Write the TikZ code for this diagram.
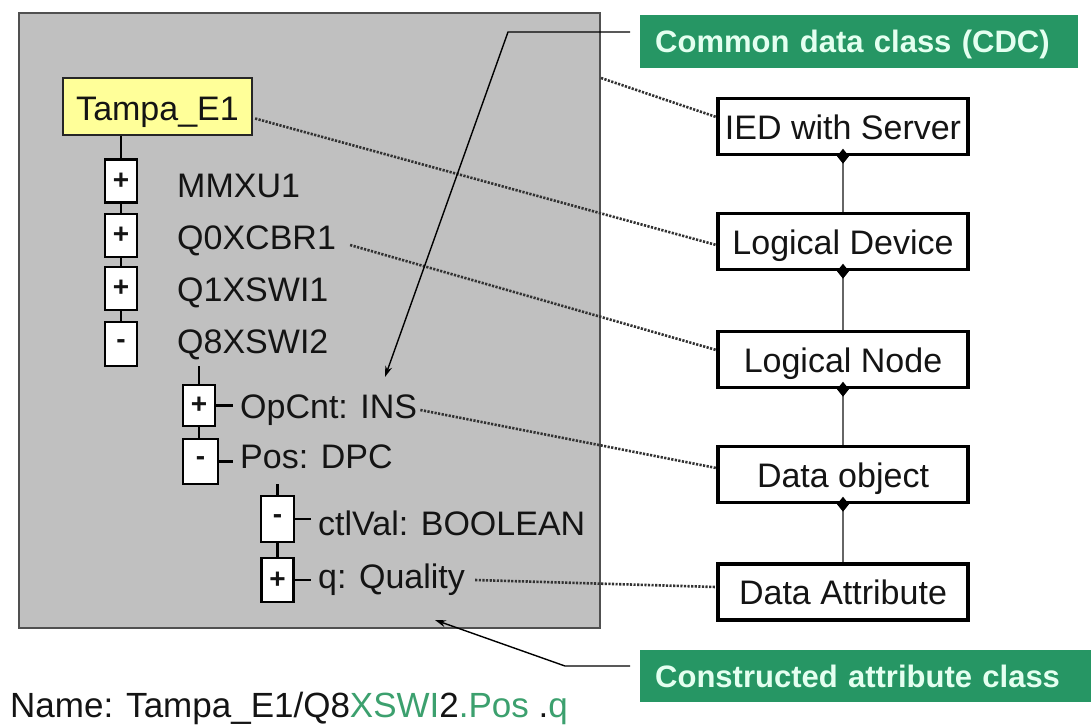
\documentclass[tikz,border=0pt]{standalone}
\usepackage{fontspec}
\setmainfont{Liberation Sans}
\usetikzlibrary{arrows.meta,calc}
\definecolor{panelgray}{RGB}{192,192,192}
\definecolor{paneledge}{RGB}{80,80,80}
\definecolor{tagyellow}{RGB}{255,255,153}
\definecolor{bandgreen}{RGB}{38,150,100}
\definecolor{bandtext}{RGB}{228,255,240}
\definecolor{pathgreen}{RGB}{60,160,110}
\definecolor{linkgray}{RGB}{50,50,50}
\definecolor{inktext}{RGB}{20,20,20}

\begin{document}
\begin{tikzpicture}[x=1pt,y=-1pt,
  every node/.style={inner sep=0pt, text=inktext, font=\fontsize{34}{40}\selectfont},
  lbl/.style={anchor=base west},
  tbox/.style={draw=black, line width=2.3pt, fill=white, minimum width=32pt,
    minimum height=43pt, font=\fontsize{28}{32}\selectfont\bfseries},
  cbox/.style={draw=black, line width=3.4pt, fill=white, minimum width=250pt,
    minimum height=56pt, text height=25pt, text depth=0pt},
  band/.style={fill=bandgreen, text=bandtext, anchor=west, align=left,
    inner xsep=15pt, text height=22pt, text depth=0pt,
    font=\fontsize{31}{36}\selectfont\bfseries},
  rel/.style={draw=linkgray, line width=2.6pt, dash pattern=on 2.2pt off 1.4pt},
  own/.style={draw=black!60, line width=1.8pt},
  twig/.style={draw=black, line width=2.2pt},
  ptr/.style={draw=black, line width=1.4pt, -{Stealth[length=11pt,width=7pt]}}]

\useasboundingbox (0,0) rectangle (1091,724);

% server panel
\node[draw=paneledge, line width=2pt, fill=panelgray,
      minimum width=581pt, minimum height=615pt] (server) at (309.5,320.5) {};

% logical device
\node[draw=black!85, line width=2.2pt, fill=tagyellow, minimum width=189pt,
      minimum height=57pt, text height=28pt, text depth=0pt] (tampa) at (157.5,106.5) {Tampa\_E1};

% logical nodes
\node[tbox] (mmbox) at (121,181)   {+};
\node[tbox] (q0box) at (121,235.5) {+};
\node[tbox] (q1box) at (121,288.5) {+};
\node[tbox, minimum height=44pt] (q8box) at (121,344) {-};
\node[lbl] (mmlbl) at (177,197) {MMXU1};
\node[lbl] (q0lbl) at (177,249) {Q0XCBR1};
\node[lbl] (q1lbl) at (177,301) {Q1XSWI1};
\node[lbl] (q8lbl) at (177,353) {Q8XSWI2};

\draw[twig] (mmbox.north |- tampa.south) -- (mmbox.north);
\draw[twig] (mmbox.south) -- (q0box.north);
\draw[twig] (q0box.south) -- (q1box.north);
\draw[twig] (q1box.south) -- (q8box.north);

% data objects
\node[tbox, minimum height=41pt] (opbox) at (199,405.5) {+};
\node[tbox, minimum width=35pt, minimum height=45pt] (posbox) at (200.5,461.5) {-};
\node[lbl] (oplbl)  at (240,418) {OpCnt: INS};
\node[lbl] (poslbl) at (240,468) {Pos: DPC};
\draw[twig] (opbox.north) -- ++(0,-18);
\draw[twig] (opbox.south) -- (opbox.south |- posbox.north);
\draw[twig] (opbox.east) -- ++(17,0);
\draw[twig] (posbox.east) -- ++(14,0);

% data attributes
\node[tbox, minimum width=33pt, minimum height=46pt] (ctlbox) at (277.5,519) {-};
\node[tbox, minimum height=44pt] (qbox) at (277.5,580) {+};
\node[lbl] (ctllbl) at (318,535) {ctlVal: BOOLEAN};
\node[lbl] (qlbl)   at (318,588) {q: Quality};
\draw[twig] (ctlbox.north) -- ++(0,-11);
\draw[twig] (ctlbox.south) -- (qbox.north);
\draw[twig] (ctlbox.east) -- ++(16,0);
\draw[twig] (qbox.east) -- ++(16,0);

% class hierarchy
\node[cbox] (ied)   at (843,126.5) {IED with Server};
\node[cbox] (ldev)  at (843,241.5) {Logical Device};
\node[cbox] (lnode) at (843,359.5) {Logical Node};
\node[cbox] (dobj)  at (843,474.5) {Data object};
\node[cbox] (dattr) at (843,592)   {Data Attribute};

\foreach \up/\down in {ied/ldev, ldev/lnode, lnode/dobj, dobj/dattr}
  \draw[own, {Diamond[length=15pt,width=12pt,color=black,fill=black]}-]
    ([yshift=7.5pt]\up.south) -- (\down.north);

% instance-to-class relations
\draw[rel] ($(server.north east)+(0,66)$) -- ($(ied.west)+(0,-9.5)$);
\draw[rel] ($(tampa.east)+(2,12)$) -- ($(ldev.west)+(0,3.5)$);
\draw[rel] ($(q0lbl.base east)+(14,-4)$) -- ($(lnode.west)+(0,-9.5)$);
\draw[rel] ($(oplbl.base east)+(3,-8)$) -- ($(dobj.west)+(0,-6.5)$);
\draw[rel] ($(qlbl.base east)+(10,-8)$) -- ($(dattr.west)+(0,-5)$);

% class labels
\node[band, text width=408pt, minimum height=53pt] (cdc) at (640,41.5) {Common data class (CDC)};
\node[band, text width=421pt, minimum height=52pt] (cac) at (640,676) {Constructed attribute class};

\coordinate (cdcbend) at (508,32);
\coordinate (cdctip)  at (385,377);
\coordinate (cacbend) at (565,666);
\coordinate (cactip)  at (435,620);
\draw[ptr] ($(cdc.west)+(-10,-9.5)$) -- (cdcbend) -- (cdctip);
\draw[ptr] ($(cac.west)+(-10,-10)$) -- (cacbend) -- (cactip);

% object reference
\node[lbl, font=\fontsize{35}{40}\selectfont] (fullname) at (10,717)
  {Name: Tampa\_E1/Q8\textcolor{pathgreen}{XSWI}2\textcolor{pathgreen}{.Pos} .\textcolor{pathgreen}{q}};
\end{tikzpicture}
\end{document}
